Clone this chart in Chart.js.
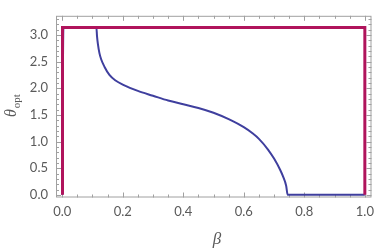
<!DOCTYPE html>
<html>
<head>
<meta charset="utf-8">
<script src="https://cdn.jsdelivr.net/npm/chart.js@4/dist/chart.umd.min.js"></script>
<style>
  html, body { margin: 0; padding: 0; background: #fff; }
  #caixa { width: 381px; height: 251px; }
</style>
</head>
<body>
<div id="caixa"><canvas id="grafico"></canvas></div>
<script>
// curva azul: theta otimo em funcao de beta
const betaCurva = [0, 0.004, 0.113, 0.115, 0.118, 0.123, 0.129, 0.14, 0.156, 0.175, 0.2, 0.25, 0.3, 0.35,
  0.4, 0.45, 0.5, 0.55, 0.6, 0.63, 0.65, 0.68, 0.7, 0.72, 0.73, 0.74, 0.745, 1.0];
const thetaCurva = [0, 3.1416, 3.1416, 2.98, 2.83, 2.66, 2.54, 2.40, 2.25, 2.15, 2.07, 1.95, 1.86, 1.77,
  1.70, 1.63, 1.54, 1.42, 1.27, 1.15, 1.05, 0.85, 0.68, 0.47, 0.34, 0.17, 0, 0];

// curva magenta: limite
const betaLimite = [0.001, 0.001, 1.0, 1.0];
const thetaLimite = [0, 3.1416, 3.1416, 0];

const ticksX = [0, 0.2, 0.4, 0.6, 0.8, 1.0];
const ticksY = [0, 0.5, 1.0, 1.5, 2.0, 2.5, 3.0];

const pontos = (xs, ys) => xs.map((v, i) => ({ x: v, y: ys[i] }));

const corEixo = '#a0a0a0';
const corTexto = '#5a5a5a';

const moldura = {
  id: 'moldura',
  beforeDatasetsDraw(chart) {
    const { ctx, chartArea: a, scales: { x, y } } = chart;
    ctx.save();
    ctx.strokeStyle = corEixo;
    ctx.lineWidth = 1;
    ctx.strokeRect(a.left + 0.5, a.top + 0.5, a.right - a.left - 1, a.bottom - a.top - 1);

    const marcaX = (v, tam) => {
      const px = Math.round(x.getPixelForValue(v)) + 0.5;
      ctx.beginPath();
      ctx.moveTo(px, a.bottom); ctx.lineTo(px, a.bottom - tam);
      ctx.moveTo(px, a.top); ctx.lineTo(px, a.top + tam);
      ctx.stroke();
    };
    const marcaY = (v, tam) => {
      const py = Math.round(y.getPixelForValue(v)) + 0.5;
      ctx.beginPath();
      ctx.moveTo(a.left, py); ctx.lineTo(a.left + tam, py);
      ctx.moveTo(a.right, py); ctx.lineTo(a.right - tam, py);
      ctx.stroke();
    };
    for (let i = 0; i <= 20; i++) marcaX(i * 0.05, i % 4 === 0 ? 5 : 3);
    for (let i = 0; i <= 33; i++) marcaY(i * 0.1, i % 5 === 0 ? 5 : 3);
    ctx.restore();
  },
  afterDraw(chart) {
    const { ctx } = chart;
    ctx.save();
    ctx.fillStyle = corTexto;
    // beta
    ctx.font = 'italic 17px "Liberation Serif"';
    ctx.textAlign = 'center';
    ctx.textBaseline = 'alphabetic';
    ctx.fillText('β', 217, 244);
    // theta_opt
    ctx.translate(16, 117);
    ctx.rotate(-Math.PI / 2);
    ctx.textAlign = 'left';
    ctx.font = 'italic 16px "Liberation Serif"';
    ctx.fillText('θ', 0, 0);
    const w = ctx.measureText('θ').width;
    ctx.font = '11px "Liberation Serif"';
    ctx.fillText('opt', w + 1, 4);
    ctx.restore();
  }
};

new Chart(document.getElementById('grafico'), {
  type: 'scatter',
  data: {
    datasets: [
      {
        label: 'limite',
        data: pontos(betaLimite, thetaLimite),
        showLine: true,
        borderColor: '#b0145c',
        borderWidth: 3,
        pointRadius: 0,
        tension: 0,
        order: 0
      },
      {
        label: 'theta',
        data: pontos(betaCurva, thetaCurva),
        showLine: true,
        borderColor: '#3f3f9e',
        borderWidth: 2,
        pointRadius: 0,
        cubicInterpolationMode: 'monotone',
        order: 1
      }
    ]
  },
  options: {
    responsive: true,
    maintainAspectRatio: false,
    animation: false,
    devicePixelRatio: 1,
    layout: { padding: { top: 1, right: 4, left: 0, bottom: 0 } },
    plugins: {
      legend: { display: false },
      tooltip: { enabled: false }
    },
    scales: {
      x: {
        type: 'linear',
        min: -0.0205,
        max: 1.022,
        grid: { display: false, drawTicks: false },
        border: { display: false },
        afterBuildTicks: (s) => { s.ticks = ticksX.map(v => ({ value: v })); },
        afterFit: (s) => { s.height = 53.5; },
        ticks: {
          padding: 7,
          color: corTexto,
          font: { family: 'Lato', size: 13 },
          maxRotation: 0,
          callback: (v) => Number(v).toFixed(1)
        }
      },
      y: {
        type: 'linear',
        min: -0.05,
        max: 3.36,
        grid: { display: false, drawTicks: false },
        border: { display: false },
        afterBuildTicks: (s) => { s.ticks = ticksY.map(v => ({ value: v })); },
        afterFit: (s) => { s.width = 56; },
        ticks: {
          padding: 8,
          color: corTexto,
          font: { family: 'Lato', size: 13 },
          callback: (v) => Number(v).toFixed(1)
        }
      }
    }
  },
  plugins: [moldura]
});
</script>
</body>
</html>
